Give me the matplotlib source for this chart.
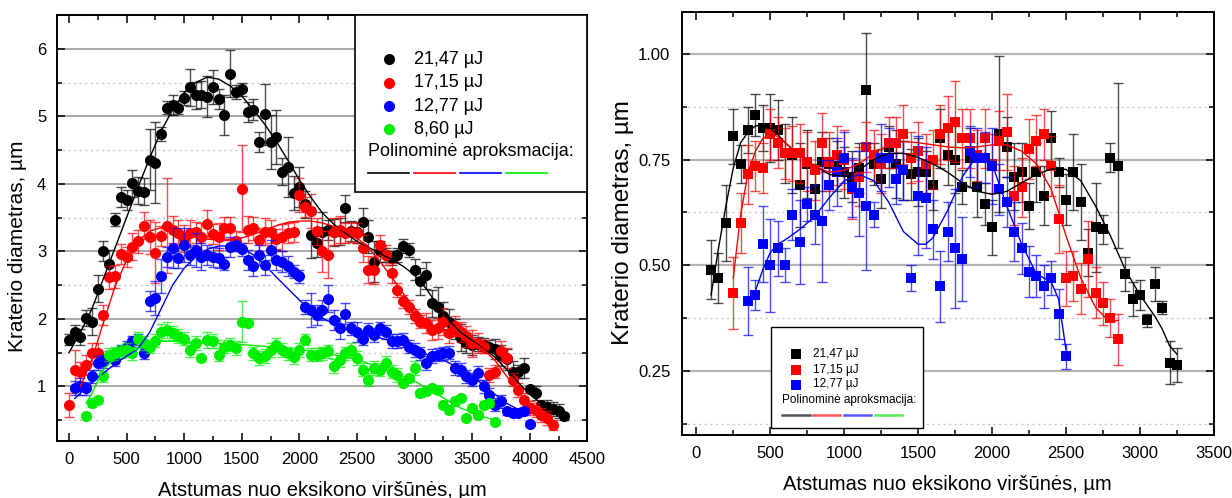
import numpy as np
import matplotlib
matplotlib.use("Agg")
import matplotlib.pyplot as plt
from matplotlib.patches import Rectangle
from matplotlib.ticker import MultipleLocator, FormatStrFormatter

plt.rcParams['font.family'] = ['Liberation Sans', 'DejaVu Sans']

# ---------------- LEFT PANEL DATA ----------------
left_labels = ["21,47 µJ", "17,15 µJ", "12,77 µJ", "8,60 µJ"]
left_colors = ["#000000", "#ff0000", "#0000ff", "#00ee00"]

lx_black = np.arange(0, 4301, 50)
ly_black = [1.69,1.81,1.73,2.01,1.96,2.45,3.01,2.82,3.47,3.80,
            3.76,4.01,3.90,3.88,4.36,4.31,4.74,5.13,5.17,5.13,
            5.27,5.43,5.31,5.32,5.29,5.43,5.26,5.02,5.63,5.36,
            5.40,5.06,5.10,4.62,5.03,4.62,4.69,4.18,4.25,3.86,
            3.95,3.70,3.25,3.12,3.28,3.32,3.28,3.30,3.64,3.30,
            3.28,3.44,3.22,2.85,3.00,2.95,2.90,2.95,3.08,3.02,
            2.73,2.56,2.65,2.23,2.18,2.05,1.95,1.85,1.72,1.64,
            1.61,1.63,1.62,1.59,1.56,1.46,1.40,1.22,1.22,1.27,
            0.96,0.90,0.72,0.70,0.67,0.64,0.56]
le_black = [0.08,0.10,0.12,0.12,0.20,0.20,0.15,0.20,0.10,0.15,
            0.15,0.20,0.20,0.20,0.45,0.60,0.10,0.10,0.15,0.10,
            0.10,0.27,0.20,0.20,0.30,0.25,0.15,0.30,0.35,0.10,
            0.10,0.15,0.15,0.15,0.45,0.40,0.40,0.20,0.45,0.25,
            0.30,0.20,0.35,0.20,0.30,0.15,0.20,0.20,0.20,0.15,
            0.15,0.20,0.25,0.30,0.15,0.10,0.10,0.10,0.10,0.10,
            0.15,0.20,0.20,0.20,0.30,0.20,0.20,0.15,0.20,0.15,
            0.15,0.10,0.10,0.10,0.15,0.15,0.15,0.15,0.10,0.15,
            0.05,0.10,0.05,0.10,0.10,0.10,0.05]

lx_red = np.arange(0, 4201, 50)
ly_red = [0.73,1.24,1.21,1.32,1.49,1.49,2.06,2.62,2.63,2.96,
          2.92,3.07,3.15,3.38,3.21,2.98,3.23,3.38,3.32,3.27,
          3.19,3.27,3.28,3.22,3.41,3.26,3.22,3.34,3.34,3.15,
          3.93,3.32,3.34,3.17,3.29,3.29,3.18,3.21,3.27,3.29,
          3.84,3.66,3.60,3.30,3.00,2.95,3.29,3.32,3.27,3.29,
          3.27,3.05,2.73,2.72,3.10,2.95,2.68,2.43,2.26,2.18,
          2.04,1.96,1.94,1.84,1.86,1.96,1.79,1.89,1.81,1.74,
          1.64,1.64,1.59,1.17,1.22,1.52,1.42,1.10,0.95,0.80,
          0.68,0.65,0.58,0.53,0.43]
le_red = [0.18,0.30,0.15,0.15,0.15,0.15,0.15,0.17,0.17,0.15,
          0.15,0.20,0.17,0.20,0.25,0.45,0.15,0.70,0.20,0.20,
          0.20,0.20,0.15,0.20,0.20,0.15,0.20,0.17,0.17,0.15,
          0.65,0.20,0.17,0.17,0.20,0.17,0.15,0.20,0.15,0.15,
          0.25,0.15,0.25,0.20,0.30,0.35,0.20,0.20,0.15,0.15,
          0.15,0.20,0.20,0.20,0.15,0.15,0.15,0.10,0.10,0.10,
          0.10,0.10,0.15,0.15,0.15,0.20,0.15,0.15,0.15,0.15,
          0.20,0.15,0.10,0.10,0.10,0.15,0.15,0.10,0.10,0.10,
          0.10,0.10,0.10,0.10,0.08]

lx_blue = np.arange(50, 4001, 50)
ly_blue = [0.98,1.00,0.97,1.15,1.35,1.37,1.44,1.39,1.54,
           1.59,1.67,1.69,1.49,2.26,2.31,2.64,2.92,3.05,2.90,
           3.10,2.95,3.02,2.92,2.95,2.92,2.90,2.82,3.07,3.10,
           3.03,2.87,2.78,2.95,2.80,3.02,2.87,2.85,2.78,2.70,
           2.63,2.18,2.13,2.06,2.13,2.30,1.98,1.86,2.08,1.86,
           1.81,1.71,1.84,1.76,1.86,1.81,1.67,1.67,1.69,1.59,
           1.54,1.49,1.35,1.45,1.47,1.49,1.50,1.27,1.25,1.15,
           1.10,1.20,1.00,0.88,0.73,0.78,0.63,0.61,0.61,0.63,
           0.45]
le_blue = [0.10,0.12,0.10,0.10,0.10,0.10,0.08,0.08,0.08,
           0.08,0.08,0.08,0.08,0.15,0.25,0.25,0.15,0.30,0.15,
           0.25,0.15,0.25,0.20,0.15,0.15,0.15,0.10,0.15,0.10,
           0.10,0.15,0.15,0.15,0.15,0.15,0.15,0.15,0.15,0.10,
           0.10,0.10,0.25,0.15,0.15,0.20,0.15,0.15,0.15,0.10,
           0.15,0.10,0.10,0.10,0.10,0.10,0.10,0.10,0.10,0.10,
           0.10,0.10,0.10,0.10,0.10,0.10,0.10,0.10,0.10,0.10,
           0.10,0.10,0.10,0.10,0.10,0.10,0.05,0.05,0.05,0.05,
           0.03]

lx_green = np.arange(150, 3701, 50)
ly_green = [0.56,0.75,0.80,1.15,1.47,1.49,1.52,1.54,1.49,1.71,
            1.64,1.59,1.68,1.81,1.84,1.79,1.75,1.71,1.54,1.64,
            1.42,1.69,1.67,1.47,1.59,1.62,1.57,1.96,1.94,1.49,
            1.42,1.45,1.54,1.62,1.54,1.49,1.43,1.54,1.69,1.47,
            1.47,1.49,1.52,1.30,1.39,1.49,1.54,1.42,1.25,1.10,
            1.27,1.25,1.35,1.22,1.17,1.05,1.12,1.27,0.90,0.93,
            0.97,0.95,0.73,0.65,0.78,0.83,0.53,0.68,0.58,0.73,
            0.75,0.47]
le_green = [0.03,0.05,0.05,0.08,0.10,0.10,0.10,0.10,0.10,0.10,
            0.10,0.10,0.10,0.12,0.12,0.10,0.10,0.10,0.10,0.10,
            0.05,0.12,0.10,0.10,0.10,0.10,0.10,0.30,0.05,0.10,
            0.10,0.10,0.10,0.10,0.10,0.10,0.10,0.10,0.08,0.10,
            0.10,0.10,0.10,0.10,0.10,0.10,0.10,0.10,0.10,0.10,
            0.10,0.10,0.10,0.10,0.10,0.05,0.05,0.10,0.05,0.05,
            0.05,0.05,0.05,0.05,0.05,0.05,0.03,0.05,0.05,0.05,
            0.05,0.03]

# polynomial approximation curves
fx_black = [0,100,200,300,400,500,600,700,800,900,1000,1100,1200,1300,1400,1500,1600,1700,1800,1900,
            2000,2100,2200,2300,2400,2500,2600,2700,2800,2900,3000,3100,3200,3300,3400,3500,3600,3700,
            3800,3900,4000,4100,4200,4300]
fy_black = [1.50,1.80,2.15,2.60,3.05,3.50,3.95,4.38,4.78,5.10,5.35,5.50,5.58,5.55,5.45,5.30,5.10,4.88,4.63,4.35,
            4.06,3.80,3.57,3.40,3.27,3.15,3.06,2.97,2.88,2.78,2.65,2.45,2.20,1.98,1.80,1.68,1.56,1.43,
            1.25,1.06,0.88,0.75,0.65,0.56]
fx_red = [100,200,300,400,500,600,700,800,900,1000,1100,1200,1300,1400,1500,1600,1700,1800,1900,2000,
          2100,2200,2300,2400,2500,2600,2700,2800,2900,3000,3100,3200,3300,3400,3500,3600,3700,3800,3900,
          4000,4100,4200]
fy_red = [1.00,1.40,1.95,2.48,2.87,3.15,3.30,3.35,3.33,3.28,3.22,3.18,3.17,3.18,3.20,3.25,3.32,3.38,3.43,3.45,
          3.45,3.42,3.37,3.30,3.20,3.05,2.85,2.62,2.38,2.16,1.98,1.86,1.80,1.74,1.66,1.55,1.38,1.15,0.92,
          0.72,0.58,0.50]
fx_blue = [50,150,270,400,500,600,700,800,900,1000,1100,1200,1300,1400,1500,1600,1700,1800,1900,2000,
           2100,2200,2300,2400,2500,2600,2700,2800,2900,3000,3100,3200,3300,3400,3500,3600,3700,3800,3900,4000]
fy_blue = [0.82,0.98,1.16,1.33,1.45,1.56,1.80,2.15,2.50,2.75,2.92,3.03,3.08,3.08,3.05,2.95,2.80,2.62,2.45,2.28,
           2.12,2.01,1.93,1.86,1.80,1.76,1.72,1.67,1.62,1.55,1.48,1.42,1.35,1.25,1.15,1.02,0.88,0.75,0.66,0.60]
fx_green = [150,200,250,300,400,500,600,700,800,900,1000,1200,1500,1800,2000,2200,2500,2800,3000,3200,3400,3600,3700]
fy_green = [0.75,0.90,1.08,1.25,1.42,1.50,1.56,1.62,1.67,1.67,1.66,1.64,1.62,1.58,1.55,1.50,1.40,1.22,1.08,0.88,0.68,0.55,0.50]

# ---------------- RIGHT PANEL DATA ----------------
right_labels = ["21,47 µJ", "17,15 µJ", "12,77 µJ"]
right_colors = ["#000000", "#ff0000", "#0000ff"]

rx_black = np.arange(100, 3251, 50)
ry_black = [0.49,0.47,0.60,0.805,0.74,0.82,0.855,0.825,0.825,0.82,
            0.765,0.76,0.69,0.74,0.68,0.745,0.74,0.735,0.72,0.71,
            0.73,0.915,0.74,0.705,0.78,0.74,0.725,0.715,0.72,0.72,
            0.69,0.80,0.76,0.75,0.685,0.755,0.685,0.645,0.59,0.81,
            0.78,0.71,0.72,0.64,0.72,0.665,0.80,0.72,0.655,0.72,
            0.65,0.53,0.59,0.585,0.755,0.735,0.48,0.42,0.43,0.37,
            0.455,0.40,0.27,0.265]
re_black = [0.07,0.06,0.09,0.065,0.045,0.055,0.05,0.055,0.08,0.07,
            0.07,0.09,0.10,0.08,0.06,0.07,0.06,0.06,0.06,0.06,
            0.06,0.135,0.05,0.07,0.05,0.08,0.07,0.06,0.08,0.05,
            0.06,0.07,0.07,0.08,0.04,0.07,0.07,0.05,0.065,0.185,
            0.07,0.08,0.07,0.055,0.07,0.07,0.065,0.035,0.06,0.09,
            0.09,0.055,0.105,0.035,0.035,0.195,0.04,0.04,0.035,0.015,
            0.04,0.015,0.05,0.04]

rx_red = np.arange(250, 2851, 50)
ry_red = [0.435,0.60,0.715,0.735,0.73,0.81,0.79,0.765,0.765,0.765,
          0.745,0.725,0.79,0.745,0.76,0.75,0.68,0.71,0.78,0.76,
          0.74,0.79,0.79,0.81,0.755,0.77,0.74,0.75,0.81,0.825,
          0.84,0.80,0.80,0.76,0.80,0.74,0.795,0.815,0.665,0.685,
          0.775,0.795,0.81,0.735,0.61,0.47,0.475,0.445,0.515,0.435,
          0.41,0.375,0.325]
re_red = [0.085,0.07,0.07,0.06,0.06,0.06,0.06,0.06,0.065,0.07,
          0.07,0.07,0.07,0.07,0.07,0.07,0.07,0.07,0.06,0.06,
          0.07,0.06,0.06,0.07,0.06,0.07,0.07,0.07,0.07,0.075,
          0.095,0.07,0.07,0.06,0.07,0.07,0.07,0.09,0.07,0.07,
          0.07,0.06,0.06,0.07,0.08,0.065,0.06,0.06,0.09,0.06,
          0.05,0.045,0.06]

rx_blue = np.arange(350, 2501, 50)
ry_blue = [0.415,0.43,0.55,0.50,0.54,0.50,0.62,0.555,0.645,0.62,
           0.605,0.69,0.72,0.755,0.685,0.67,0.64,0.62,0.755,0.755,
           0.705,0.725,0.47,0.665,0.66,0.585,0.45,0.58,0.54,0.515,
           0.77,0.755,0.755,0.735,0.68,0.65,0.58,0.54,0.485,0.475,
           0.45,0.47,0.385,0.285]
re_blue = [0.08,0.035,0.09,0.11,0.065,0.04,0.06,0.10,0.04,0.07,
           0.145,0.06,0.08,0.06,0.07,0.10,0.15,0.03,0.08,0.07,
           0.06,0.07,0.03,0.14,0.12,0.07,0.085,0.07,0.14,0.10,
           0.06,0.07,0.06,0.09,0.06,0.06,0.07,0.06,0.06,0.05,
           0.05,0.04,0.06,0.03]

rfx_black = [100,150,200,250,300,350,400,450,500,550,600,700,800,900,1000,1100,1200,1300,1400,1500,1600,1700,
             1800,1900,2000,2100,2200,2300,2400,2500,2600,2700,2800,2900,3000,3100,3150,3200,3250]
rfy_black = [0.43,0.54,0.64,0.73,0.79,0.815,0.83,0.83,0.825,0.81,0.79,0.76,0.735,0.715,0.71,0.725,0.75,0.765,0.765,0.755,0.74,0.72,
             0.695,0.675,0.668,0.675,0.695,0.715,0.728,0.727,0.70,0.64,0.57,0.49,0.43,0.38,0.35,0.31,0.29]
rfx_red = [250,300,350,400,450,500,550,600,700,800,900,1000,1100,1200,1300,1400,1500,1600,1700,1800,1900,2000,
           2100,2200,2300,2400,2500,2600,2700,2800,2850]
rfy_red = [0.47,0.62,0.72,0.77,0.80,0.81,0.805,0.79,0.76,0.735,0.72,0.725,0.74,0.765,0.785,0.793,0.79,0.785,0.78,0.778,0.78,0.785,
           0.785,0.77,0.74,0.68,0.57,0.47,0.40,0.365,0.37]
rfx_blue = [350,400,450,500,550,600,700,800,900,1000,1100,1200,1300,1400,1500,1550,1600,1700,1800,1900,1950,2000,
            2100,2200,2300,2400,2450,2500]
rfy_blue = [0.41,0.44,0.49,0.53,0.55,0.56,0.585,0.615,0.66,0.70,0.715,0.70,0.65,0.58,0.55,0.55,0.565,0.63,0.71,0.76,0.765,0.74,
            0.64,0.55,0.48,0.46,0.42,0.30]

# ---------------- FIGURE ----------------
fig = plt.figure(figsize=(12.32, 4.98), dpi=100)
axL = fig.add_axes([57.4/1232, 1-440.5/498, 530/1232, 425.5/498])
axR = fig.add_axes([681.5/1232, 1-434.5/498, 532.4/1232, 422.9/498])

def style_axes(ax, xmaj, xmin, ymaj, ymin, grid_color, grid_lw):
    ax.xaxis.set_major_locator(MultipleLocator(xmaj))
    ax.xaxis.set_minor_locator(MultipleLocator(xmin))
    ax.yaxis.set_major_locator(MultipleLocator(ymaj))
    ax.yaxis.set_minor_locator(MultipleLocator(ymin))
    ax.tick_params(which='both', direction='in', top=True, right=True, width=1.1)
    ax.tick_params(which='major', length=6, labelsize=12, pad=8)
    ax.tick_params(which='minor', length=3.5)
    for s in ax.spines.values():
        s.set_linewidth(1.4)
    ax.grid(True, which='major', axis='y', color=grid_color, lw=grid_lw, zorder=0)
    ax.grid(True, which='minor', axis='y', color='#c8c8c8', lw=1.0, ls=(0, (1.5, 2.5)), zorder=0)
    ax.set_axisbelow(True)

def draw_series(ax, x, y, e, c, marker, ms):
    eb = ax.errorbar(x, y, yerr=e, fmt='none', ecolor=c, elinewidth=1.0, capsize=3.5, capthick=1.0, zorder=3)
    for art in tuple(eb.lines[1]) + tuple(eb.lines[2]):
        art.set_alpha(0.7)
    ax.plot(x, y, marker, ms=ms, color=c, mew=0, zorder=3)

# LEFT
axL.set_xlim(-100, 4500)
axL.set_ylim(0.2, 6.5)
style_axes(axL, 500, 250, 1, 0.5, '#9a9a9a', 1.2)
axL.yaxis.set_major_formatter(FormatStrFormatter('%d'))

lseries = [(lx_black, ly_black, le_black), (lx_red, ly_red, le_red),
           (lx_blue, ly_blue, le_blue), (lx_green, ly_green, le_green)]
for (x, y, e), c in zip(lseries, left_colors):
    draw_series(axL, x, y, e, c, 'o', 8)

for fx, fy, c in [(fx_black, fy_black, left_colors[0]), (fx_red, fy_red, left_colors[1]),
                  (fx_blue, fy_blue, left_colors[2]), (fx_green, fy_green, left_colors[3])]:
    axL.plot(fx, fy, '-', color=c, lw=1.0, zorder=4)

axL.set_xlabel("Atstumas nuo eksikono viršūnės, µm", fontsize=14.5, labelpad=10)
axL.set_ylabel("Kraterio diametras, µm", fontsize=15)
axL.yaxis.set_label_coords((27 - 57.4) / 530, (440.5 - 246) / 425.5)

# left legend (drawn box)
bx0 = (355 - 57.4) / 530
by0 = (440.5 - 192) / 425.5
axL.add_patch(Rectangle((bx0, by0), 1 - bx0, 1 - by0, transform=axL.transAxes, facecolor='white',
                        edgecolor='black', lw=1.2, zorder=6))
rows_y = [59, 82.7, 106.5, 129]
for yy, lab, c in zip(rows_y, left_labels, left_colors):
    ya = (440.5 - yy) / 425.5
    axL.plot([(389 - 57.4) / 530], [ya], 'o', ms=8, color=c, mew=0, transform=axL.transAxes, zorder=7,
             clip_on=False)
    axL.text((414 - 57.4) / 530, ya, lab, transform=axL.transAxes, fontsize=13, va='center', ha='left', zorder=7)
axL.text((368 - 57.4) / 530, (440.5 - 152) / 425.5, "Polinominė aproksmacija:", transform=axL.transAxes,
         fontsize=13, va='center', ha='left', zorder=7)
segs = [(368, 409), (414, 455), (460, 501), (506, 547)]
ly_line = (440.5 - 173) / 425.5
for (a, b), c in zip(segs, left_colors):
    axL.plot([(a - 57.4) / 530, (b - 57.4) / 530], [ly_line, ly_line], '-', color=c, lw=1.2,
             transform=axL.transAxes, zorder=7, clip_on=False)

# RIGHT
axR.set_xlim(-100, 3500)
axR.set_ylim(0.1, 1.1)
style_axes(axR, 500, 250, 0.25, 0.125, '#b4b4b4', 1.6)
axR.yaxis.set_major_formatter(FormatStrFormatter('%.2f'))

rseries = [(rx_black, ry_black, re_black), (rx_red, ry_red, re_red), (rx_blue, ry_blue, re_blue)]
for (x, y, e), c in zip(rseries, right_colors):
    draw_series(axR, x, y, e, c, 's', 7)

for fx, fy, c in [(rfx_black, rfy_black, right_colors[0]), (rfx_red, rfy_red, right_colors[1]),
                  (rfx_blue, rfy_blue, right_colors[2])]:
    axR.plot(fx, fy, '-', color=c, lw=1.0, zorder=4)

axR.set_xlabel("Atstumas nuo eksikono viršūnės, µm", fontsize=14.5, labelpad=10)
axR.set_ylabel("Kraterio diametras, µm", fontsize=17.5)
axR.yaxis.set_label_coords((634 - 681.5) / 532.4, (434.5 - 222.5) / 422.9)

W, H, X0, Y1 = 532.4, 422.9, 681.5, 434.5
def ra(px, py):
    return (px - X0) / W, (Y1 - py) / H
x0, y0 = ra(770.5, 428)
x1, y1 = ra(923, 327)
axR.add_patch(Rectangle((x0, y0), x1 - x0, y1 - y0, transform=axR.transAxes, facecolor='white',
                        edgecolor='black', lw=1.0, zorder=6))
for yy, lab, c in zip([354, 369.5, 384.5], right_labels, right_colors):
    mx, my = ra(796, yy)
    axR.plot([mx], [my], 's', ms=6.5, color=c, mew=0, transform=axR.transAxes, zorder=7, clip_on=False)
    tx, ty = ra(813, yy)
    axR.text(tx, ty, lab, transform=axR.transAxes, fontsize=8.5, va='center', ha='left', zorder=7)
tx, ty = ra(782, 400)
axR.text(tx, ty, "Polinominė aproksmacija:", transform=axR.transAxes, fontsize=8.5, va='center', ha='left', zorder=7)
rsegs = [(782, 810), (812.5, 840), (844, 871), (874.5, 902)]
seg_colors = ["#555555", "#ff5555", "#5555ff", "#55ee55"]
for (a, b), c in zip(rsegs, seg_colors):
    xa, yl = ra(a, 414.5)
    xb, _ = ra(b, 414.5)
    axR.plot([xa, xb], [yl, yl], '-', color=c, lw=1.8, transform=axR.transAxes, zorder=7, clip_on=False)

fig.savefig("out.png", dpi=100)
